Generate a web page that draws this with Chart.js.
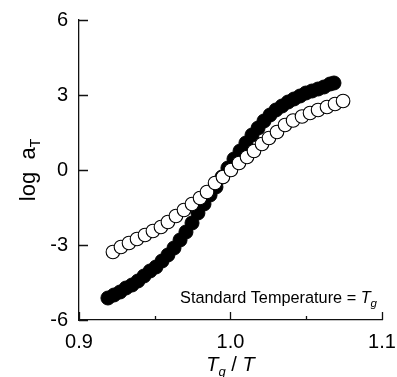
<!DOCTYPE html>
<html><head><meta charset="utf-8">
<script src="https://cdn.jsdelivr.net/npm/chart.js@4"></script>
<style>html,body{margin:0;padding:0;background:#fff}</style>
</head><body>
<canvas id="c" width="397" height="377" style="width:397px;height:377px;display:block"></canvas>
<script>
// Filled circles series (Tg/T, log aT)
const filledX = [0.9191,0.9231,0.9271,0.9310,0.9350,0.9389,0.9429,0.9469,0.9508,0.9548,0.9587,0.9627,0.9667,0.9706,0.9746,0.9785,0.9825,0.9865,0.9904,0.9944,0.9983,1.0023,1.0063,1.0102,1.0142,1.0182,1.0221,1.0261,1.0300,1.0340,1.0380,1.0419,1.0459,1.0498,1.0538,1.0578,1.0617,1.0657,1.0683];
const filledY = [-5.12,-5.00,-4.88,-4.72,-4.60,-4.44,-4.24,-4.04,-3.88,-3.64,-3.40,-3.12,-2.80,-2.48,-2.12,-1.72,-1.36,-1.00,-0.68,-0.28,0.08,0.44,0.76,1.08,1.40,1.68,1.96,2.20,2.40,2.56,2.72,2.84,2.96,3.08,3.16,3.24,3.32,3.44,3.48];
// Open circles series
const openX = [0.9224,0.9277,0.9330,0.9383,0.9436,0.9488,0.9541,0.9587,0.9640,0.9693,0.9746,0.9799,0.9845,0.9898,0.9950,1.0003,1.0056,1.0109,1.0155,1.0208,1.0254,1.0307,1.0360,1.0413,1.0472,1.0525,1.0578,1.0637,1.0690,1.0743];
const openY = [-3.28,-3.08,-2.92,-2.76,-2.60,-2.44,-2.28,-2.08,-1.84,-1.60,-1.36,-1.12,-0.88,-0.52,-0.28,0.00,0.28,0.52,0.76,1.04,1.28,1.52,1.80,1.98,2.14,2.28,2.40,2.52,2.64,2.76];
// Axis ticks
const xTicks = [0.9, 1.0, 1.1];
const xMinorTicks = [0.95, 1.05];
const yTicks = [-6, -3, 0, 3, 6];

const FONT = "'Liberation Sans', Arial, sans-serif";

function pts(xs, ys){ return xs.map((x,i)=>({x:x, y:ys[i]})); }

function drawSegments(ctx, segs, x, y, align){
  let total = 0;
  segs.forEach(s=>{ ctx.font = (s.italic?'italic ':'') + s.size + 'px ' + FONT; s.w = ctx.measureText(s.t).width; total += s.w; });
  let cx = align === 'center' ? x - total/2 : (align === 'right' ? x - total : x);
  segs.forEach(s=>{
    ctx.font = (s.italic?'italic ':'') + s.size + 'px ' + FONT;
    ctx.fillText(s.t, cx, y + (s.dy||0));
    cx += s.w;
  });
}

const decor = {
  id: 'decor',
  beforeDatasetsDraw(chart){
    const ctx = chart.ctx, xs = chart.scales.x, ys = chart.scales.y;
    const a = chart.chartArea;
    ctx.save();
    ctx.strokeStyle = '#111';
    ctx.lineWidth = 1.3;
    ctx.beginPath();
    xTicks.forEach(v=>{ const px = Math.round(xs.getPixelForValue(v))+0.5; ctx.moveTo(px, a.bottom); ctx.lineTo(px, a.bottom-8); });
    xMinorTicks.forEach(v=>{ const px = Math.round(xs.getPixelForValue(v))+0.5; ctx.moveTo(px, a.bottom); ctx.lineTo(px, a.bottom-4); });
    yTicks.forEach(v=>{ const py = Math.round(ys.getPixelForValue(v))+0.5; ctx.moveTo(a.left, py); ctx.lineTo(a.left+9, py); });
    ctx.stroke();
    ctx.restore();
  },
  afterDraw(chart){
    const ctx = chart.ctx, a = chart.chartArea;
    ctx.save();
    ctx.fillStyle = '#000';
    ctx.textBaseline = 'alphabetic';
    drawSegments(ctx, [
      {t:'T', size:20, italic:true},
      {t:'g', size:13, italic:true, dy:5},
      {t:' / ', size:20},
      {t:'T', size:20, italic:true}
    ], (a.left+a.right)/2, 371, 'center');
    drawSegments(ctx, [
      {t:'Standard Temperature = ', size:16.3},
      {t:'T', size:16.3, italic:true},
      {t:'g', size:11.5, italic:true, dy:4}
    ], 377, 303, 'right');
    ctx.translate(35, 170);
    ctx.rotate(-Math.PI/2);
    drawSegments(ctx, [
      {t:'log  a', size:22},
      {t:'T', size:14, dy:5}
    ], 0, 0, 'center');
    ctx.restore();
  }
};

new Chart(document.getElementById('c'), {
  type: 'scatter',
  data: {
    datasets: [
      { label:'open', data: pts(openX, openY), pointStyle:'circle', pointRadius:6.8, pointHoverRadius:6.8,
        backgroundColor:'#fff', borderColor:'#000', borderWidth:1.1, order:0 },
      { label:'filled', data: pts(filledX, filledY), pointStyle:'circle', pointRadius:7, pointHoverRadius:7,
        backgroundColor:'#000', borderColor:'#000', borderWidth:1, order:1 }
    ]
  },
  options: {
    responsive:false, animation:false, devicePixelRatio:1,
    layout:{ padding:{ left:0, top:20, right:15, bottom:0 } },
    plugins:{ legend:{display:false}, tooltip:{enabled:false} },
    scales:{
      x:{ type:'linear', min:0.9, max:1.1,
        afterBuildTicks(s){ s.ticks = xTicks.map(v=>({value:v})); },
        afterFit(s){ s.height = 57; s.paddingLeft = 0; s.paddingRight = 0; },
        grid:{ display:false, drawTicks:false },
        border:{ display:true, color:'#111', width:1.3 },
        ticks:{ padding:10, color:'#000', font:{ family:FONT, size:20 }, maxRotation:0,
          callback:(v)=>Number(v).toFixed(1) }
      },
      y:{ type:'linear', min:-6, max:6,
        afterBuildTicks(s){ s.ticks = yTicks.map(v=>({value:v})); },
        afterFit(s){ s.width = 79; s.paddingTop = 0; s.paddingBottom = 0; },
        grid:{ display:false, drawTicks:false },
        border:{ display:true, color:'#111', width:1.3 },
        ticks:{ padding:11, color:'#000', font:{ family:FONT, size:20 },
          callback:(v)=>String(v) }
      }
    }
  },
  plugins:[decor]
});
</script>
</body></html>
